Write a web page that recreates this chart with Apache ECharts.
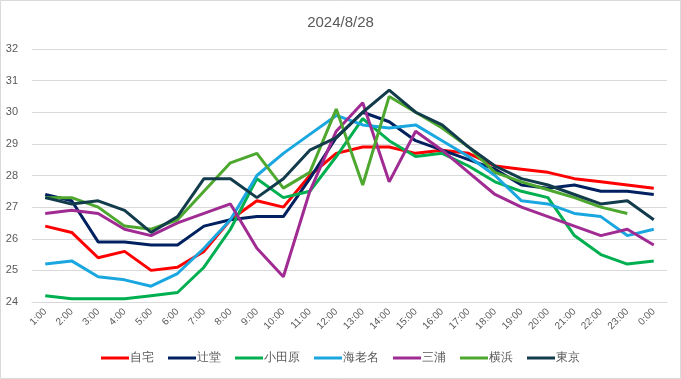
<!DOCTYPE html>
<html><head><meta charset="utf-8">
<script src="https://cdn.jsdelivr.net/npm/echarts@6/dist/echarts.min.js"></script>
<style>html,body{margin:0;padding:0;background:#fff}#c{width:681px;height:379px}</style>
</head><body><div id="c"></div>
<script>
const categories = ['1:00','2:00','3:00','4:00','5:00','6:00','7:00','8:00','9:00','10:00','11:00','12:00','13:00','14:00','15:00','16:00','17:00','18:00','19:00','20:00','21:00','22:00','23:00','0:00'];
const jitaku   = [26.4,26.2,25.4,25.6,25.0,25.1,25.6,26.6,27.2,27.0,28.0,28.7,28.9,28.9,28.7,28.8,28.7,28.3,28.2,28.1,27.9,27.8,27.7,27.6];
const tsujido  = [27.4,27.2,25.9,25.9,25.8,25.8,26.4,26.6,26.7,26.7,27.9,29.2,30.0,29.7,29.1,28.8,28.5,28.2,27.7,27.6,27.7,27.5,27.5,27.4];
const odawara  = [24.2,24.1,24.1,24.1,24.2,24.3,25.1,26.3,27.9,27.3,27.5,28.6,29.8,29.1,28.6,28.7,28.3,27.8,27.5,27.3,26.1,25.5,25.2,25.3];
const ebina    = [25.2,25.3,24.8,24.7,24.5,24.9,25.7,26.6,28.0,28.7,29.3,29.9,29.6,29.5,29.6,29.1,28.6,28.0,27.2,27.1,26.8,26.7,26.1,26.3];
const miura    = [26.8,26.9,26.8,26.3,26.1,26.5,26.8,27.1,25.7,24.8,27.5,29.4,30.3,27.8,29.4,28.8,28.1,27.4,27.0,26.7,26.4,26.1,26.3,25.8];
const yokohama = [27.3,27.3,27.0,26.4,26.3,26.6,27.5,28.4,28.7,27.6,28.1,30.1,27.7,30.5,30.0,29.5,28.9,28.1,27.8,27.55,27.3,27.0,26.8,null];
const tokyo    = [27.3,27.1,27.2,26.9,26.2,26.7,27.9,27.9,27.3,27.9,28.8,29.2,30.0,30.7,30.0,29.6,28.9,28.3,27.9,27.7,27.4,27.1,27.2,26.6];
const seriesNames = ['自宅','辻堂','小田原','海老名','三浦','横浜','東京'];
const seriesData = [jitaku,tsujido,odawara,ebina,miura,yokohama,tokyo];
const colors = ['#FF0000','#002060','#00B050','#1AA7E0','#A02B93','#4EA72E','#123B4C'];
const yTicks = {min:24,max:32,interval:1};

const chart = echarts.init(document.getElementById('c'));
chart.setOption({
  animation:false,
  color: colors,
  textStyle:{fontFamily:'Liberation Sans, Arial, sans-serif'},
  title:{text:'2024/8/28',left:'center',top:10,textStyle:{fontSize:15,fontWeight:'normal',color:'#595959'}},
  graphic:[{type:'rect',shape:{x:0.5,y:0.5,width:680,height:378},style:{fill:'none',stroke:'#d9d9d9',lineWidth:1},silent:true}],
  grid:{left:32,right:14,top:49,bottom:77,containLabel:false},
  legend:{bottom:10,left:'center',icon:'rect',itemWidth:28,itemHeight:3,itemGap:14,
    textStyle:{fontSize:12,color:'#595959',padding:[0,0,0,-4]},data:seriesNames},
  xAxis:{type:'category',data:categories,boundaryGap:true,
    axisLine:{show:true,lineStyle:{color:'#d9d9d9'}},axisTick:{show:false},
    axisLabel:{rotate:45,fontSize:10,color:'#595959',interval:0,margin:8}},
  yAxis:{type:'value',min:yTicks.min,max:yTicks.max,interval:yTicks.interval,
    axisLine:{show:false},axisTick:{show:false},
    axisLabel:{fontSize:11,color:'#595959',margin:14},
    splitLine:{lineStyle:{color:'#d9d9d9',width:1}}},
  series: seriesNames.map((n,i)=>({name:n,type:'line',data:seriesData[i],symbol:'none',
    lineStyle:{width:3,color:colors[i]},itemStyle:{color:colors[i]},connectNulls:false}))
});
</script></body></html>
